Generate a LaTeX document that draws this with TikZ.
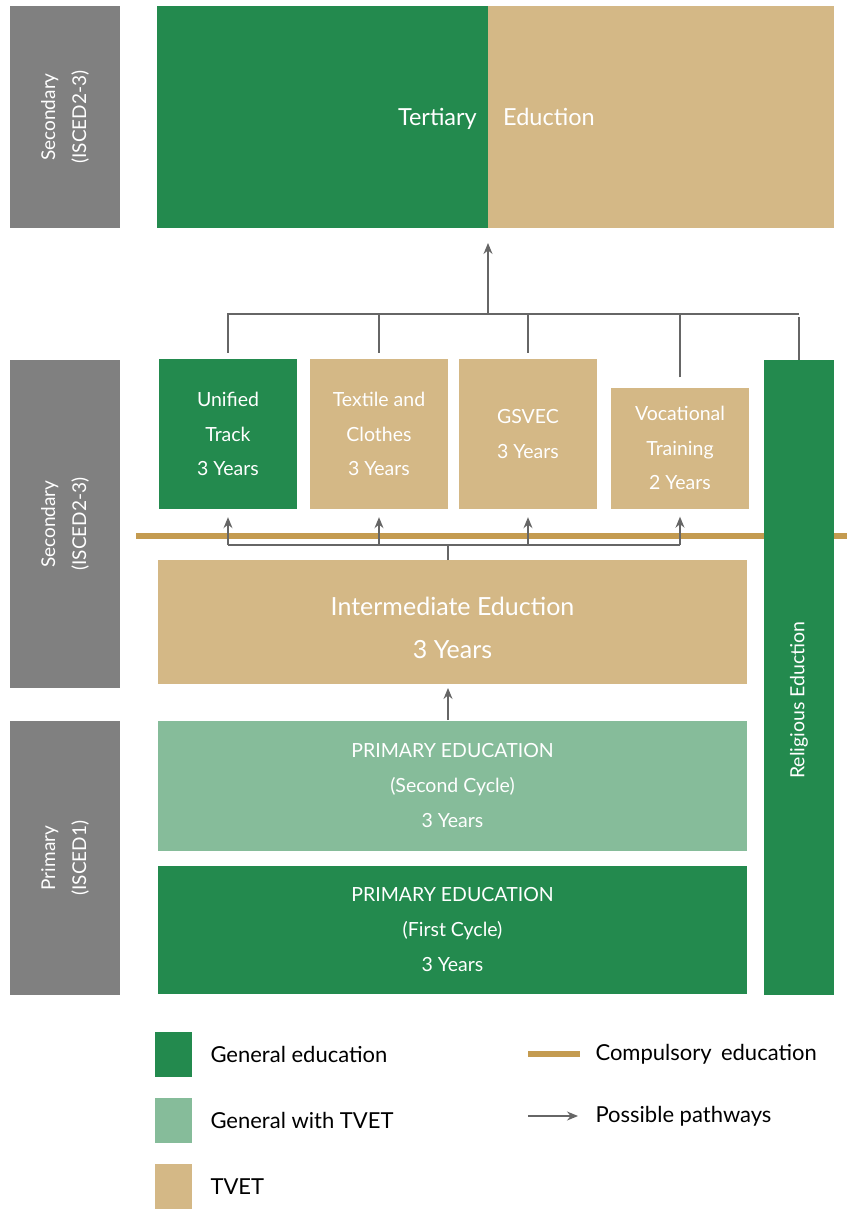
\documentclass[tikz,border=0pt]{standalone}
\usepackage{fontspec}
\setmainfont{Lato}
\usetikzlibrary{arrows.meta,positioning,calc}

\definecolor{gened}{HTML}{238A4E}
\definecolor{genvet}{HTML}{86BC9A}
\definecolor{tvet}{HTML}{D4B886}
\definecolor{compul}{HTML}{C49B50}
\definecolor{level}{HTML}{808080}
\definecolor{pathgray}{HTML}{666666}

\tikzset{
  box/.style={inner sep=0pt, align=center, text=white},
  levelbox/.style={box, fill=level, rotate=90, minimum height=110pt,
    font=\fontsize{19}{31}\selectfont},
  path/.style={draw=pathgray, line width=1.3pt},
  pathto/.style={path, -{Stealth[length=11pt,width=9pt]}}
}

\begin{document}
\begin{tikzpicture}[x=1pt,y=-1pt]
\useasboundingbox (0,0) rectangle (847,1209);

% levels on the left
\node[levelbox, minimum width=222pt] (sec1) at (65,117) {Secondary\\(ISCED2-3)};
\node[levelbox, minimum width=328pt] (sec2) at (65,524) {Secondary\\(ISCED2-3)};
\node[levelbox, minimum width=274pt] (prim) at (65,858) {Primary\\(ISCED1)};

% tertiary
\fill[gened] (157,6) rectangle (488,228);
\fill[tvet] (488,6) rectangle (834,228);
\node[box, anchor=base east, font=\fontsize{23.5}{28}\selectfont] (tert) at (477,126) {Tertiary};
\node[box, anchor=base west, font=\fontsize{23.5}{28}\selectfont] (educ) at (503,126) {Eduction};
\coordinate (tertiary) at (488,228);

% compulsory education line
\draw[compul, line width=6pt] (136,536) -- (847,536);

% upper secondary
\tikzset{track/.style={box, minimum width=138pt, font=\fontsize{19.5}{34.5}\selectfont}}
\node[track, fill=gened, minimum height=150pt] (unified) at (228,434) {Unified\\Track\\3 Years};
\node[track, fill=tvet, minimum height=150pt] (textile) at (379,434) {Textile and\\Clothes\\3 Years};
\node[track, fill=tvet, minimum height=150pt] (gsvec) at (528,434) {GSVEC\\3 Years};
\node[track, fill=tvet, minimum height=121pt] (vocat) at (680,448) {Vocational\\Training\\2 Years};

\node[box, fill=gened, minimum width=70pt, minimum height=635pt] (relig) at (799,677.5) {};
\node[box, rotate=90, font=\fontsize{19.5}{22}\selectfont] (religtext) at (799,700) {Religious Eduction};

% intermediate and primary
\tikzset{wide/.style={box, minimum width=589pt}}
\node[wide, fill=tvet, minimum height=124pt] (inter) at (452.5,622) {};
\node[box, font=\fontsize{25}{43}\selectfont] (intertext) at (452.5,628) {Intermediate Eduction\\3 Years};
\node[wide, fill=genvet, minimum height=130pt, font=\fontsize{19.5}{35}\selectfont] (prim2) at (452.5,786) {PRIMARY EDUCATION\\(Second Cycle)\\3 Years};
\node[wide, fill=gened, minimum height=128pt, font=\fontsize{19.5}{35}\selectfont] (prim1) at (452.5,930) {PRIMARY EDUCATION\\(First Cycle)\\3 Years};

% pathways
\draw[pathto] (448,720) -- (448,688);

\coordinate (lowbus) at (448,545);
\draw[path] (448,560) -- (lowbus);
\draw[path] (unified.south |- lowbus) -- (vocat.south |- lowbus);
\foreach \b in {unified,textile,gsvec,vocat}
  \draw[pathto, shorten >=8pt] (\b.south |- lowbus) -- (\b.south);

\coordinate (topbus) at (488,314);
\draw[path] ([yshift=6pt]unified.north) |- (relig.north |- topbus);
\draw[path] ([yshift=-3pt]relig.north |- topbus) -- (relig.north);
\draw[path] ([yshift=6pt]textile.north) -- (textile.north |- topbus);
\draw[path] ([yshift=6pt]gsvec.north) -- (gsvec.north |- topbus);
\draw[path] ([yshift=10pt]vocat.north) -- (vocat.north |- topbus);
\draw[pathto, shorten >=15pt] (topbus) -- (tertiary);

% legend
\tikzset{key/.style={minimum width=37pt, minimum height=45pt, inner sep=0pt},
  keytext/.style={anchor=west, font=\fontsize{22}{26}\selectfont}}
\node[key, fill=gened] (k1) at (173.5,1054.5) {};
\node[key, fill=genvet] (k2) at (173.5,1120) {};
\node[key, fill=tvet] (k3) at (173.5,1186) {};
\node[keytext] (t1) at (207,1054) {General education};
\node[keytext] (t2) at (207,1120) {General with TVET};
\node[keytext] (t3) at (207,1187) {TVET};

\coordinate (c1) at (528,1054);
\coordinate (c2) at (580,1054);
\draw[compul, line width=6pt] (c1) -- (c2);
\node[keytext] (t4) at (592,1054) {Compulsory\, education};
\coordinate (p1) at (528,1116);
\coordinate (p2) at (578,1116);
\draw[pathto] (p1) -- (p2);
\node[keytext] (t5) at (592,1116) {Possible pathways};
\end{tikzpicture}
\end{document}
